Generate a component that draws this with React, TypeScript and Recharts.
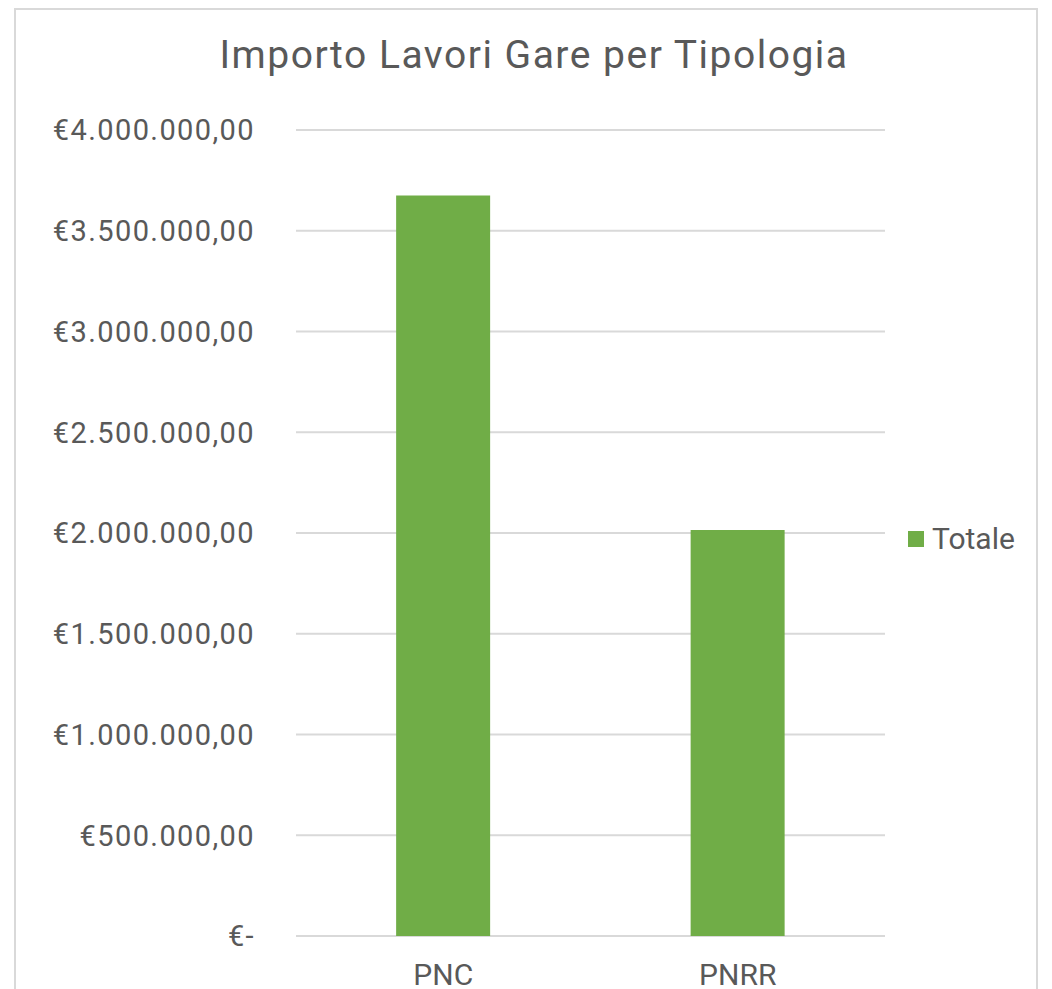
import { Bar, BarChart, CartesianGrid, Legend, XAxis, YAxis } from "recharts";

const CATEGORIES = ["PNC", "PNRR"];
const TOTALE = [3675000, 2015000];
const Y_TICKS = [0, 500000, 1000000, 1500000, 2000000, 2500000, 3000000, 3500000, 4000000];

const TEXT = "#595959";
const GRID = "#d9d9d9";
const GREEN = "#70ad47";
const FONT = "Roboto, 'Noto Sans', sans-serif";

const data = CATEGORIES.map((name, i) => ({ name, Totale: TOTALE[i] }));

// Italian accounting-style euro: "€3.500.000,00", zero shown as "€-"
function formatEuro(v: number) {
  if (v === 0) return "€-";
  const [int, dec] = v.toFixed(2).split(".");
  return `€${int.replace(/\B(?=(\d{3})+(?!\d))/g, ".")},${dec}`;
}

function LegendBox() {
  return (
    <div style={{ display: "flex", alignItems: "center", fontSize: 30, color: TEXT, fontFamily: FONT }}>
      <span style={{ width: 16, height: 16, background: GREEN, marginRight: 8, display: "inline-block" }} />
      Totale
    </div>
  );
}

export default function App() {
  return (
    <div style={{ position: "absolute", left: 0, top: 0, width: 1052, height: 989, background: "#fff", fontFamily: FONT }}>
      <div
        style={{
          position: "absolute",
          left: 14,
          top: 8,
          width: 1024,
          height: 1000,
          border: `2px solid ${GRID}`,
          boxSizing: "border-box",
        }}
      />
      <div
        style={{
          position: "absolute",
          left: 0,
          width: 1068,
          top: 31,
          textAlign: "center",
          fontSize: 39,
          letterSpacing: 1.5,
          color: TEXT,
          lineHeight: "48px",
        }}
      >
        Importo Lavori Gare per Tipologia
      </div>
      <BarChart
        width={1052}
        height={989}
        data={data}
        margin={{ top: 130, right: 167, bottom: 0, left: 0 }}
        barCategoryGap="34%"
        style={{ position: "absolute", left: 0, top: 0 }}
      >
        <CartesianGrid stroke={GRID} strokeWidth={2} vertical={false} />
        <XAxis
          dataKey="name"
          height={53}
          axisLine={false}
          tickLine={false}
          tickSize={0}
          tickMargin={28}
          tick={{ fill: TEXT, fontSize: 30, fontFamily: FONT }}
        />
        <YAxis
          width={296}
          domain={[0, 4000000]}
          ticks={Y_TICKS}
          axisLine={false}
          tickLine={false}
          tickSize={0}
          tickMargin={41}
          interval={0}
          tickFormatter={formatEuro}
          tick={{ fill: TEXT, fontSize: 29, fontFamily: FONT, letterSpacing: 1.4 }}
        />
        <Legend
          layout="horizontal"
          align="center"
          verticalAlign="middle"
          content={LegendBox}
          wrapperStyle={{ left: 908, top: 521, width: "auto" }}
        />
        <Bar dataKey="Totale" fill={GREEN} isAnimationActive={false} />
      </BarChart>
    </div>
  );
}
